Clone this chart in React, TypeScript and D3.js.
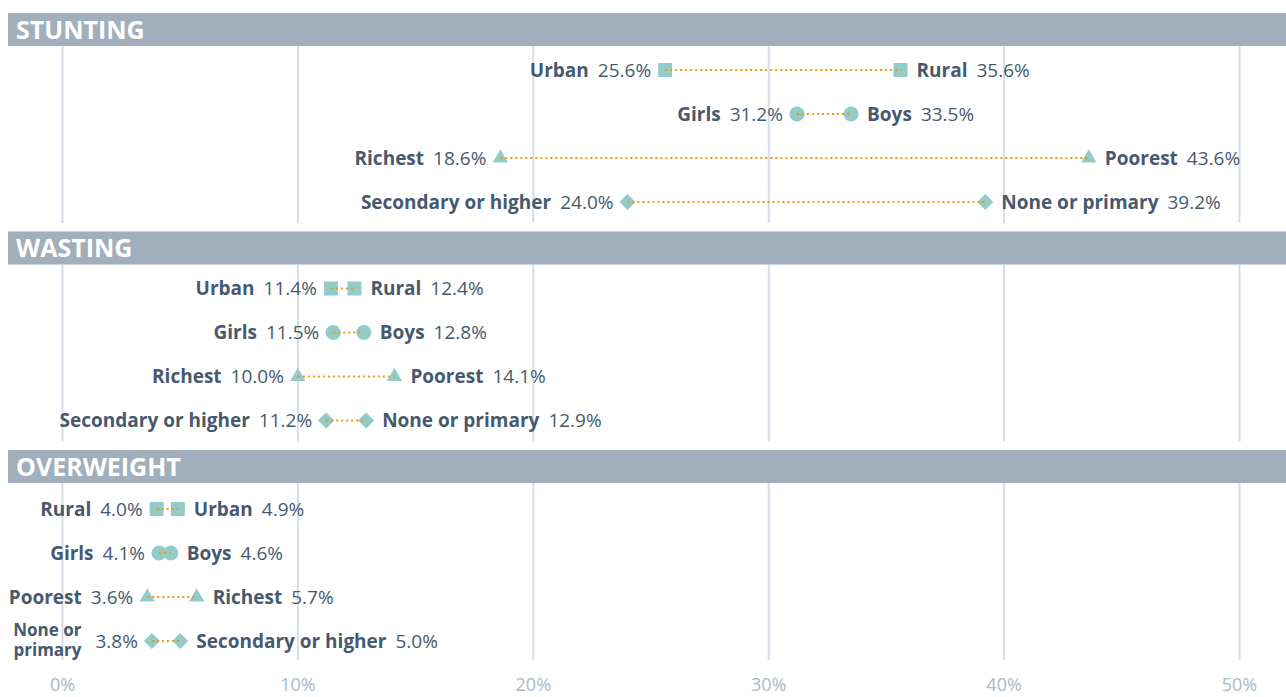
import React, { useRef, useEffect } from "react";
import * as d3 from "d3";

// sections and their rows (left = smaller value, right = larger)
const sections = ["STUNTING", "WASTING", "OVERWEIGHT"];
const shapes = ["square", "circle", "triangle", "diamond"];

const leftNames = [
  ["Urban", "Girls", "Richest", "Secondary or higher"],
  ["Urban", "Girls", "Richest", "Secondary or higher"],
  ["Rural", "Girls", "Poorest", "None or\nprimary"],
];
const leftValues = [
  [25.6, 31.2, 18.6, 24.0],
  [11.4, 11.5, 10.0, 11.2],
  [4.0, 4.1, 3.6, 3.8],
];
const rightNames = [
  ["Rural", "Boys", "Poorest", "None or primary"],
  ["Rural", "Boys", "Poorest", "None or primary"],
  ["Urban", "Boys", "Richest", "Secondary or higher"],
];
const rightValues = [
  [35.6, 33.5, 43.6, 39.2],
  [12.4, 12.8, 14.1, 12.9],
  [4.9, 4.6, 5.7, 5.0],
];
const ticks = [0, 10, 20, 30, 40, 50];

const W = 1286;
const H = 697;
const FONT = "'Open Sans', Lato, sans-serif";
const TEXT = "#46596e";
const MARK = "#92cbc8";
const LINE = "#f2950f";
const GRID = "#d5dde8";
const HEAD = "#a1aebb";

const App = () => {
  const svgRef = useRef<SVGSVGElement | null>(null);

  useEffect(() => {
    if (!svgRef.current) return;
    const svg = d3.select(svgRef.current);
    svg.selectAll("*").remove();

    const x = d3.scaleLinear().domain([0, 50]).range([62.5, 1239.5]);
    const sectionY = d3.scalePoint<number>().domain([0, 1, 2]).range([13, 450]);
    const rowY = d3.scalePoint<number>().domain([0, 1, 2, 3]).range([57, 189]);
    const rowShift = [0, 0, 2];
    const headH = 33;

    const symbolFor = (s: string) => {
      if (s === "square") return d3.symbol().type(d3.symbolSquare).size(196)();
      if (s === "circle") return d3.symbol().type(d3.symbolCircle).size(180)();
      if (s === "triangle") return d3.symbol().type(d3.symbolTriangle).size(100)();
      return d3.symbol().type(d3.symbolSquare).size(130)();
    };

    sections.forEach((name, si) => {
      const top = sectionY(si)!;
      const g = svg.append("g");

      // gridlines
      g.selectAll("line.grid")
        .data(ticks)
        .enter()
        .append("line")
        .attr("x1", (d) => x(d))
        .attr("x2", (d) => x(d))
        .attr("y1", top + headH)
        .attr("y2", top + 210)
        .attr("stroke", GRID)
        .attr("stroke-width", 2);

      // header bar
      g.append("rect")
        .attr("x", 8)
        .attr("y", top)
        .attr("width", W - 8)
        .attr("height", headH)
        .attr("fill", HEAD);
      g.append("text")
        .attr("x", 16)
        .attr("y", top + headH / 2)
        .attr("dy", "0.36em")
        .attr("fill", "#fff")
        .style("font-family", FONT)
        .style("font-weight", 700)
        .style("font-size", "25px")
        .text(name);

      shapes.forEach((shape, ri) => {
        const y = top + rowY(ri)! + rowShift[si];
        const lv = leftValues[si][ri];
        const rv = rightValues[si][ri];
        const row = g.append("g");

        [lv, rv].forEach((v) => {
          row.append("path")
            .attr("d", symbolFor(shape))
            .attr(
              "transform",
              `translate(${x(v)},${y})${shape === "diamond" ? " rotate(45)" : ""}`
            )
            .attr("fill", MARK);
        });

        row.append("line")
          .attr("x1", x(lv))
          .attr("x2", x(rv))
          .attr("y1", y)
          .attr("y2", y)
          .attr("stroke", LINE)
          .attr("stroke-width", 2)
          .attr("stroke-dasharray", "2 3");

        // left label
        const lname = leftNames[si][ri];
        if (lname.includes("\n")) {
          const val = row.append("text")
            .attr("x", x(lv) - 14)
            .attr("y", y)
            .attr("dy", "0.36em")
            .attr("text-anchor", "end")
            .attr("fill", TEXT)
            .style("font-family", FONT)
            .style("font-size", "19px")
            .text(`${lv.toFixed(1)}%`);
          const vw = (val.node() as SVGTextElement).getComputedTextLength();
          const nt = row.append("text")
            .attr("text-anchor", "end")
            .attr("fill", TEXT)
            .style("font-family", FONT)
            .style("font-weight", 700)
            .style("font-size", "17px");
          lname.split("\n").forEach((part, k) => {
            nt.append("tspan")
              .attr("x", x(lv) - 14 - vw - 14)
              .attr("y", y + (k === 0 ? -11 : 9))
              .attr("dy", "0.36em")
              .text(part);
          });
        } else {
          const lt = row.append("text")
            .attr("x", x(lv) - 14)
            .attr("y", y)
            .attr("dy", "0.36em")
            .attr("text-anchor", "end")
            .attr("fill", TEXT)
            .style("font-family", FONT)
            .style("font-size", "19px");
          lt.append("tspan").style("font-weight", 700).text(lname);
          lt.append("tspan").attr("dx", 9).text(`${lv.toFixed(1)}%`);
        }

        // right label
        const rt = row.append("text")
          .attr("x", x(rv) + 16)
          .attr("y", y)
          .attr("dy", "0.36em")
          .attr("fill", TEXT)
          .style("font-family", FONT)
          .style("font-size", "19px");
        rt.append("tspan").style("font-weight", 700).text(rightNames[si][ri]);
        rt.append("tspan").attr("dx", 9).text(`${rv.toFixed(1)}%`);
      });
    });

    // bottom axis labels
    svg.append("g")
      .selectAll("text")
      .data(ticks)
      .enter()
      .append("text")
      .attr("x", (d) => x(d))
      .attr("y", 685)
      .attr("dy", "0.36em")
      .attr("text-anchor", "middle")
      .attr("fill", "#a9b9c9")
      .style("font-family", FONT)
      .style("font-size", "18px")
      .text((d) => `${d}%`);
  }, []);

  return (
    <>
      <style>{"body{margin:0;overflow:hidden}"}</style>
      <svg ref={svgRef} width={W} height={H} style={{ display: "block", background: "#fff" }}></svg>
    </>
  );
};

export default App;
